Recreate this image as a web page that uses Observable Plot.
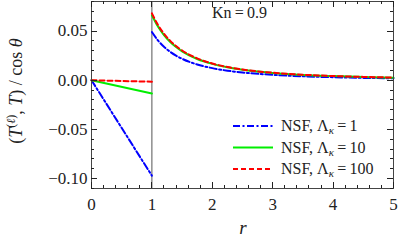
<!DOCTYPE html>
<html><head><meta charset="utf-8">
<script src="https://cdn.jsdelivr.net/npm/d3@7"></script>
<script src="https://cdn.jsdelivr.net/npm/@observablehq/plot@0.6"></script>
<style>body{margin:0;background:#fff}</style>
</head><body><div id="chart"></div>
<script>
const rInner = [0, 1];
const nsf1Inner = [0, -0.097];
const nsf10Inner = [0, -0.0135];
const nsf100Inner = [0, -0.0015];
const rOuter = [1, 1.1, 1.2, 1.3, 1.4, 1.5, 1.75, 2, 2.25, 2.5, 3, 3.5, 4, 4.5, 5];
const nsf1Outer = [0.049, 0.0405, 0.034, 0.029, 0.025, 0.0218, 0.016, 0.0123, 0.0097, 0.0079, 0.0055, 0.004, 0.0031, 0.0024, 0.002];
const nsf10Outer = [0.066, 0.0546, 0.0459, 0.0391, 0.0337, 0.0294, 0.0216, 0.0166, 0.0131, 0.0106, 0.0074, 0.0054, 0.0042, 0.0033, 0.0026];
const nsf100Outer = [0.068, 0.0562, 0.0472, 0.0402, 0.0347, 0.0302, 0.0222, 0.017, 0.0134, 0.0109, 0.0076, 0.0056, 0.0043, 0.0034, 0.0027];
const seriesNames = ["1", "10", "100"];
const xTicks = [0, 1, 2, 3, 4, 5];
const yTicks = [-0.10, -0.05, 0.00, 0.05];

const FONT = "'Liberation Serif', 'DejaVu Serif', serif";
const colors = {"1": "#0000ff", "10": "#00ee00", "100": "#ff0000"};
const dashes = {"1": "7,2.5,2,2.5", "10": null, "100": "5,3"};

const inner = [nsf1Inner, nsf10Inner, nsf100Inner];
const outer = [nsf1Outer, nsf10Outer, nsf100Outer];
const rows = [];
seriesNames.forEach((s, i) => {
  rInner.forEach((r, j) => rows.push({r, v: inner[i][j], s, seg: s + "in"}));
  rOuter.forEach((r, j) => rows.push({r, v: outer[i][j], s, seg: s + "out"}));
});

const xMinor = d3.range(0, 5.001, 0.2).map(d => +d.toFixed(2));
const yMinor = d3.range(-0.11, 0.0801, 0.01).map(d => +d.toFixed(3));

const W = 399, H = 243, ML = 91, MR = 6, MT = 1, MB = 55;

const lineMarks = seriesNames.map(s => Plot.line(rows.filter(d => d.s === s), {
  x: "r", y: "v", z: "seg", stroke: colors[s], strokeWidth: 2,
  strokeDasharray: dashes[s] || undefined, curve: "monotone-x"
}));

const plot = Plot.plot({
  width: W, height: H,
  marginLeft: ML, marginRight: MR, marginTop: MT, marginBottom: MB,
  x: {domain: [0, 5], axis: null},
  y: {domain: [-0.11, 0.08], axis: null},
  style: {fontFamily: FONT, fontSize: "17px", background: "white", color: "#222"},
  marks: [
    Plot.ruleX([1], {stroke: "#555", strokeWidth: 1}),
    ...lineMarks,
    Plot.frame({stroke: "#444", strokeWidth: 1}),
    Plot.axisX({ticks: xTicks, tickSize: 0, tickPadding: 9, tickFormat: d => String(d), label: null, fill: "#222"}),
    Plot.axisY({ticks: yTicks, tickSize: 0, tickPadding: 4, tickFormat: d3.format(".2f"), label: null, fill: "#222"})
  ]
});
document.getElementById("chart").appendChild(plot);

const svg = d3.select(plot);
svg.selectAll("text").style("font-family", FONT).style("font-size", "17px");

// inward tick marks on all four sides, positioned with the plot's own scales
try {
  const sx = plot.scale("x"), sy = plot.scale("y");
  const edgeL = ML, edgeR = W - MR, edgeT = MT, edgeB = H - MB;
  const px = v => Math.round(sx.apply(v)) + 0.5;
  const py = v => Math.round(sy.apply(v)) + 0.5;
  let pathD = "";
  xMinor.forEach(v => {
    const L = xTicks.includes(v) ? 6 : 3;
    pathD += `M${px(v)},${edgeB}v${-L}M${px(v)},${edgeT}v${L}`;
  });
  yMinor.forEach(v => {
    const L = yTicks.some(t => Math.abs(t - v) < 1e-9) ? 6 : 3;
    pathD += `M${edgeL},${py(v)}h${L}M${edgeR},${py(v)}h${-L}`;
  });
  svg.append("path").attr("d", pathD).attr("stroke", "#222").attr("stroke-width", 1).attr("fill", "none");
} catch (e) { console.error(e); }

// y label
const yl = svg.append("text")
  .attr("transform", "translate(22,91) rotate(-90)")
  .attr("text-anchor", "middle")
  .style("font-family", FONT).style("font-size", "18px").attr("fill", "#222");
yl.append("tspan").text("(");
yl.append("tspan").style("font-style", "italic").text("T");
yl.append("tspan").attr("dy", -7).style("font-size", "12px").text("(");
yl.append("tspan").style("font-size", "12px").style("font-style", "italic").text("ℓ");
yl.append("tspan").style("font-size", "12px").text(")");
yl.append("tspan").attr("dy", 7).text(", ");
yl.append("tspan").style("font-style", "italic").text("T");
yl.append("tspan").text(") / cos ");
yl.append("tspan").style("font-style", "italic").text("θ");

// x label
svg.append("text").attr("x", 243).attr("y", 234).attr("text-anchor", "middle")
  .style("font-family", FONT).style("font-size", "19px").style("font-style", "italic")
  .attr("fill", "#222").text("r");

// Kn annotation
svg.append("text").attr("x", 212).attr("y", 18).attr("text-anchor", "start")
  .style("font-family", FONT).style("font-size", "16px").attr("fill", "#222")
  .text("Kn\u2009=\u20090.9");

// legend
const legY = [126, 147.5, 169];
seriesNames.forEach((s, i) => {
  const g = svg.append("g");
  g.append("line").attr("x1", 233).attr("x2", 273).attr("y1", legY[i]).attr("y2", legY[i])
    .attr("stroke", colors[s]).attr("stroke-width", 2)
    .attr("stroke-dasharray", dashes[s] || null);
  const t = g.append("text").attr("x", 281).attr("y", legY[i] + 5).attr("text-anchor", "start")
    .style("font-family", FONT).style("font-size", "16px").attr("fill", "#222");
  t.append("tspan").text("NSF, Λ");
  t.append("tspan").attr("dy", 3).style("font-size", "11px").style("font-style", "italic").text("κ");
  t.append("tspan").attr("dy", -3).text("\u2009=\u2009" + s);
});
</script></body></html>
